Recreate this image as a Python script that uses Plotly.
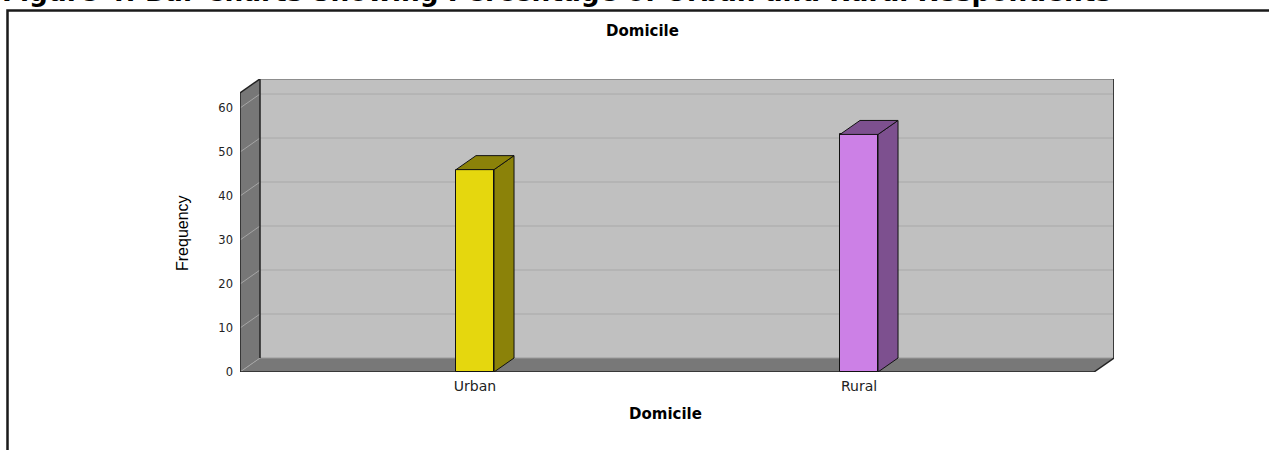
import plotly.graph_objects as go

# ---- data ----
categories = ["Urban", "Rural"]
frequency = [46, 54]
ytick_values = [0, 10, 20, 30, 40, 50, 60]
chart_title = "Domicile"
x_title = "Domicile"
y_title = "Frequency"
caption = "Figure 4: Bar Charts Showing Percentage of Urban and Rural Respondents"

front_colors = ["#E5D70E", "#CC80E6"]
side_colors = ["#8B8209", "#7D508F"]

# ---- geometry (layout) ----
W, H = 1269, 450
ML, MR, MT, MB = 240, 155, 79, 78
PW, PH = W - ML - MR, H - MT - MB
X_MIN, X_MAX = -0.612, 1.664
Y_MAX = 66.6
DX = 0.0521      # depth offset, x units
DY = 3.18        # depth offset, y units
Y_TOP = 63.45
X_RF = X_MAX - DX
BAR_W = 0.099


def px2paper(px, py):
    return (px - ML) / PW, (H - MB - py) / PH


def path(pts):
    return "M " + " L ".join(f"{x},{y}" for x, y in pts) + " Z"


shapes = []
# left wall
shapes.append(dict(type="path", xref="x", yref="y", layer="below",
                   path=path([(X_MIN, 0), (X_MIN + DX, DY), (X_MIN + DX, Y_TOP + DY), (X_MIN, Y_TOP)]),
                   fillcolor="#777777", line=dict(width=0)))
# back wall
shapes.append(dict(type="rect", xref="x", yref="y", layer="below",
                   x0=X_MIN + DX, x1=X_MAX, y0=DY, y1=Y_TOP + DY,
                   fillcolor="#C0C0C0", line=dict(width=0)))
# floor
shapes.append(dict(type="path", xref="x", yref="y", layer="below",
                   path=path([(X_MIN, 0), (X_RF, 0), (X_MAX, DY), (X_MIN + DX, DY)]),
                   fillcolor="#787878", line=dict(width=0)))
# grid lines
for v in ytick_values[1:]:
    shapes.append(dict(type="line", xref="x", yref="y", layer="below",
                       x0=X_MIN + DX, x1=X_MAX, y0=v + DY, y1=v + DY,
                       line=dict(color="#A9A9A9", width=1)))
    shapes.append(dict(type="line", xref="x", yref="y", layer="below",
                       x0=X_MIN, x1=X_MIN + DX, y0=v, y1=v + DY,
                       line=dict(color="#A5A5A5", width=1)))
# floor back edge & left diagonal (light)
shapes.append(dict(type="line", xref="x", yref="y", layer="below",
                   x0=X_MIN + DX, x1=X_MAX, y0=DY, y1=DY, line=dict(color="#9A9A9A", width=1)))
shapes.append(dict(type="line", xref="x", yref="y", layer="below",
                   x0=X_MIN, x1=X_MIN + DX, y0=0, y1=DY, line=dict(color="#A5A5A5", width=1)))
# dark edges
edge = dict(color="#222222", width=1.5)
for (x0, y0, x1, y1) in [
    (X_MIN, 0, X_MIN, Y_TOP),
    (X_MIN, Y_TOP, X_MIN + DX, Y_TOP + DY),
    (X_MIN + DX, DY, X_MIN + DX, Y_TOP + DY),
    (X_MIN, 0, X_RF, 0),
    (X_RF, 0, X_MAX, DY),
]:
    shapes.append(dict(type="line", xref="x", yref="y", layer="below",
                       x0=x0, x1=x1, y0=y0, y1=y1, line=edge))
shapes.append(dict(type="line", xref="x", yref="y", layer="below",
                   x0=X_MIN + DX, x1=X_MAX, y0=Y_TOP + DY, y1=Y_TOP + DY,
                   line=dict(color="#5A5A5A", width=1.5)))
shapes.append(dict(type="line", xref="x", yref="y", layer="below",
                   x0=X_MAX, x1=X_MAX, y0=DY, y1=Y_TOP + DY,
                   line=dict(color="#3A3A3A", width=2)))

# bar side / top faces
for i, v in enumerate(frequency):
    xl, xr = i - BAR_W / 2, i + BAR_W / 2
    shapes.append(dict(type="path", xref="x", yref="y", layer="above",
                       path=path([(xr, 0), (xr + DX, DY), (xr + DX, v + DY), (xr, v)]),
                       fillcolor=side_colors[i], line=dict(color="#111111", width=1)))
    shapes.append(dict(type="path", xref="x", yref="y", layer="above",
                       path=path([(xl, v), (xl + DX, v + DY), (xr + DX, v + DY), (xr, v)]),
                       fillcolor=side_colors[i], line=dict(color="#111111", width=1)))

# outer frame
fx0, fy0 = px2paper(7.5, 452)
fx1, fy1 = px2paper(7.5, 10.5)
fx2, fy2 = px2paper(1272, 10.5)
shapes.append(dict(type="path", xref="paper", yref="paper", layer="above",
                   path=f"M {fx0},{fy0} L {fx1},{fy1} L {fx2},{fy2}",
                   line=dict(color="#1A1A1A", width=2.5)))

fig = go.Figure()
fig.add_trace(go.Bar(
    x=categories, y=frequency, width=BAR_W,
    marker=dict(color=front_colors, line=dict(color="#111111", width=1)),
    hoverinfo="x+y",
))

annotations = []
cx, cy = px2paper(0, 9)
annotations.append(dict(text=f"<b>{caption}</b>", xref="paper", yref="paper", x=cx, y=cy,
                        xanchor="left", yanchor="bottom", showarrow=False,
                        font=dict(family="DejaVu Sans", size=26.4, color="#000000")))
tx, ty = px2paper(642.5, 31)
annotations.append(dict(text=f"<b>{chart_title}</b>", xref="paper", yref="paper", x=tx, y=ty,
                        xanchor="center", yanchor="middle", showarrow=False,
                        font=dict(family="DejaVu Sans", size=15, color="#000000")))
ax, ay = px2paper(665.5, 414)
annotations.append(dict(text=f"<b>{x_title}</b>", xref="paper", yref="paper", x=ax, y=ay,
                        xanchor="center", yanchor="middle", showarrow=False,
                        font=dict(family="DejaVu Sans", size=15, color="#000000")))
yx, yy = px2paper(182, 233)
annotations.append(dict(text=y_title, xref="paper", yref="paper", x=yx, y=yy, textangle=-90,
                        xanchor="center", yanchor="middle", showarrow=False,
                        font=dict(family="Liberation Sans, Arial", size=16, color="#000000")))

fig.update_layout(
    width=W, height=H,
    margin=dict(l=ML, r=MR, t=MT, b=MB, pad=0),
    paper_bgcolor="#FFFFFF", plot_bgcolor="rgba(0,0,0,0)",
    showlegend=False, bargap=0,
    shapes=shapes, annotations=annotations,
    xaxis=dict(type="category", range=[X_MIN, X_MAX], showgrid=False, zeroline=False,
               showline=False, ticks="", ticklabelstandoff=4, fixedrange=True,
               tickfont=dict(family="DejaVu Sans", size=14, color="#222222")),
    yaxis=dict(range=[0, Y_MAX], tickvals=ytick_values, showgrid=False, zeroline=False,
               showline=False, ticks="", ticklabelstandoff=6, fixedrange=True,
               tickfont=dict(family="DejaVu Sans", size=11.5, color="#222222")),
)

fig.write_html(
    "out.html",
    config={"displayModeBar": False},
    post_script="document.body.style.margin='0';document.body.style.overflow='hidden';",
)
